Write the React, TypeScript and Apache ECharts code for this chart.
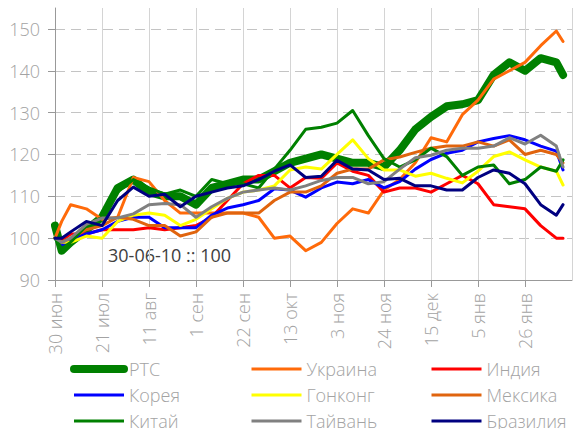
import React, { useEffect, useRef } from 'react';
import * as echarts from 'echarts';

const startDate = Date.UTC(2010, 5, 30);
const monthNames = ['янв', 'фев', 'мар', 'апр', 'май', 'июн', 'июл', 'авг', 'сен', 'окт', 'ноя', 'дек'];

// day offsets from 30-06-2010
const days = [0, 3, 7, 14, 21, 28, 35, 42, 49, 56, 63, 70, 77, 84, 91, 98, 105, 112, 119, 126, 133, 140, 147, 154, 161, 168, 175, 182, 189, 196, 203, 210, 217, 224, 227];

const seriesNames = ['РТС', 'Украина', 'Индия', 'Корея', 'Гонконг', 'Мексика', 'Китай', 'Тайвань', 'Бразилия'];
const seriesColors = ['#008000', '#ff6a0a', '#ff0000', '#0000ff', '#ffff00', '#e0640e', '#008000', '#808080', '#000080'];
const seriesWidths = [8, 3, 3, 3, 3, 3, 3, 3, 3];

const rts = [103, 97, 99, 102, 105, 112, 114, 111, 110, 110, 108, 112, 113, 114, 114, 116, 118, 119, 120, 119, 118, 118, 117, 121, 126, 129, 131.5, 132, 133, 139, 142, 140, 143, 142, 139];
const ukraine = [100, 104, 108, 107, 104.5, 105, 114.5, 113.5, 109, 106, 106, 106, 106, 106, 105, 100, 100.5, 97, 99, 103.5, 107, 106, 111.5, 114, 118, 124, 123, 129.5, 133, 138, 140, 142, 146, 149.5, 147];
const india = [100, 99.5, 101, 101, 102, 102, 102, 102.5, 102, 102.5, 103, 105, 109, 113, 115, 115, 112, 114.5, 114.3, 118, 116, 115, 111, 112, 112, 111, 113, 115, 113, 108, 107.5, 107, 103, 100, 100];
const korea = [100, 98, 99.5, 101, 102, 104, 105, 105, 102.5, 102.5, 102.5, 105.5, 107.2, 108, 109, 111.8, 111.5, 109.8, 112, 113.4, 113, 114, 112, 113.5, 116.5, 118.8, 120.3, 121, 123, 123.8, 124.5, 123.5, 122, 120.8, 116.3];
const hongkong = [100, 99, 99, 100.5, 100, 104, 105.5, 106, 105.5, 103, 104.5, 107, 109.5, 111, 111.5, 112.5, 116.3, 117, 116.5, 120, 123.5, 119, 116.3, 116.3, 114.8, 115.5, 114.3, 113.2, 116, 119.5, 120.6, 118.7, 117, 116, 112.7];
const mexico = [100, 99, 100, 102, 103, 105, 104.5, 103, 103, 100.5, 101.5, 105, 106, 106, 106, 109, 111, 111, 112.5, 115.5, 116.5, 116.5, 118.7, 119.4, 120.5, 121.5, 122, 122, 123, 122, 123.5, 120, 121, 120, 118];
const china = [100, 97.5, 99, 103, 105, 111, 114, 112, 110.5, 111.5, 110, 114, 113, 113, 112, 116.5, 121, 126, 126.5, 127.5, 130.5, 124.5, 119, 117, 118.7, 121.5, 119.5, 115, 117, 117.5, 113, 114, 117, 116, 118.7];
const taiwan = [100, 99, 100, 103.3, 104.8, 104.8, 105.8, 108, 108.3, 108, 105, 107.5, 109.5, 111, 111.5, 112, 111.5, 112.5, 113.8, 114.5, 114.5, 113, 113.5, 116.5, 119.2, 119.8, 121, 121.5, 121.5, 122, 124, 122.5, 124.6, 122, 117];
const brazil = [100, 100, 101.5, 104, 103, 109, 112.2, 110, 110.5, 107.5, 110, 111, 112, 112.5, 114, 116, 117.5, 114.5, 114.8, 118.6, 116.5, 116.3, 114, 114.3, 112.5, 112.5, 111.5, 111.5, 114.5, 116.3, 115.5, 113, 108, 105.5, 108];

const seriesValues = [rts, ukraine, india, korea, hongkong, mexico, china, taiwan, brazil];

const legendColumns = [[0, 3, 6], [1, 4, 7], [2, 5, 8]];
const legendLefts = [70, 250, 430];

const FONT = '"Open Sans", "Noto Sans", sans-serif';
const labelColor = '#a3a3a3';

const fmtDay = (d: number) => {
  const dt = new Date(startDate + d * 86400000);
  return dt.getUTCDate() + ' ' + monthNames[dt.getUTCMonth()];
};

export default function App() {
  const ref = useRef<HTMLDivElement>(null);
  useEffect(() => {
    if (!ref.current) return;
    const chart = echarts.init(ref.current, null, { renderer: 'svg' });
    chart.setOption({
      animation: false,
      grid: { left: 55, top: 8, right: 1, bottom: 149 },
      xAxis: {
        type: 'value',
        min: 0,
        max: 231,
        interval: 21,
        axisLine: { show: true, lineStyle: { color: '#999', width: 1 } },
        axisTick: { show: true, length: 7, lineStyle: { color: '#999' } },
        axisLabel: {
          rotate: 90,
          margin: 13,
          color: labelColor,
          fontSize: 18,
          fontWeight: 300,
          fontFamily: FONT,
          showMaxLabel: false,
          formatter: (v: number) => fmtDay(v),
        },
        splitLine: { show: true, lineStyle: { color: '#d4d4d4', width: 1 } },
      },
      yAxis: {
        type: 'value',
        min: 90,
        max: 155,
        interval: 10,
        axisLine: { show: true, lineStyle: { color: '#999', width: 1 } },
        axisTick: { show: true, length: 7, lineStyle: { color: '#999' } },
        axisLabel: {
          margin: 15,
          color: labelColor,
          fontSize: 18,
          fontWeight: 300,
          fontFamily: FONT,
          showMaxLabel: false,
        },
        splitLine: {
          show: true,
          showMinLine: false,
          showMaxLine: false,
          lineStyle: { color: '#c4c4c4', type: [10, 6], width: 1 },
        },
      },
      legend: legendColumns.map((col, i) => ({
        orient: 'vertical',
        left: legendLefts[i],
        top: 359,
        width: 160,
        height: 120,
        padding: 0,
        itemWidth: 50,
        itemHeight: 14,
        itemGap: 6,
        selectedMode: false,
        textStyle: { color: labelColor, fontSize: 18, fontWeight: 300, fontFamily: FONT, lineHeight: 20 },
        data: col.map((k) => ({
          name: seriesNames[k],
          itemStyle: { opacity: 0 },
          lineStyle: { width: seriesWidths[k], cap: k === 0 ? 'round' : 'butt', color: seriesColors[k], opacity: 1 },
        })),
      })),
      graphic: [
        {
          type: 'text',
          left: 108,
          top: 246,
          style: { text: '30-06-10 :: 100', fill: '#404040', fontSize: 18, fontFamily: FONT },
        },
      ],
      series: seriesNames.map((name, k) => ({
        name,
        type: 'line',
        symbol: 'none',
        showSymbol: false,
        data: days.map((d, i) => [d, seriesValues[k][i]]),
        lineStyle: { width: seriesWidths[k], color: seriesColors[k], join: 'round', cap: 'round' },
        itemStyle: { color: seriesColors[k] },
        emphasis: { disabled: true },
      })),
    });
    return () => chart.dispose();
  }, []);
  return <div ref={ref} style={{ position: 'absolute', left: 0, top: 0, width: 573, height: 429 }} />;
}
